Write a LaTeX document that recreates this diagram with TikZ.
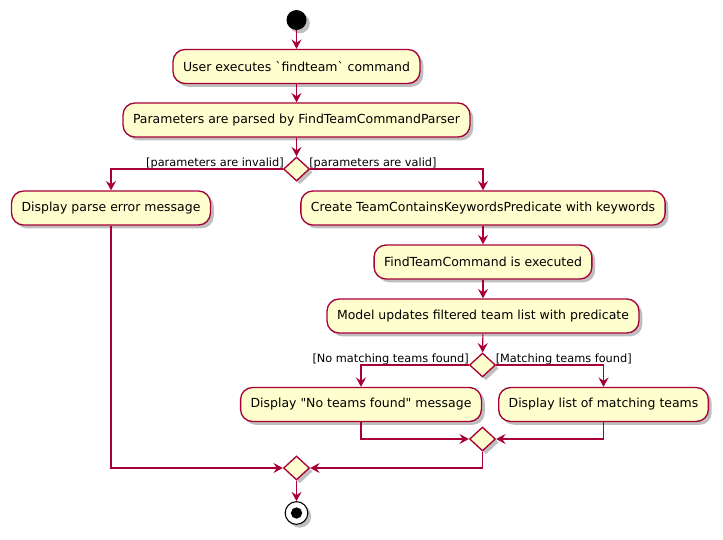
\documentclass[tikz,border=0pt]{standalone}
\usepackage{fontspec}
\newfontfamily\pfont{DejaVu Sans}
\usetikzlibrary{shapes.geometric,arrows.meta,shadows}
\definecolor{pfill}{HTML}{FEFECE}
\definecolor{pline}{HTML}{A80036}
\tikzset{
  act/.style={draw=pline, fill=pfill, line width=1pt, rounded corners=9pt,
    minimum height=25.5pt, inner xsep=7.5pt, inner ysep=0pt, font=\pfont\fontsize{9.35}{11}\selectfont,
    drop shadow={shadow xshift=2.5pt, shadow yshift=-2.5pt, opacity=0.25, fill=black}},
  dia/.style={draw=pline, fill=pfill, line width=1pt, diamond, inner sep=0pt,
    minimum width=19.5pt, minimum height=18pt,
    drop shadow={shadow xshift=2.5pt, shadow yshift=-2.5pt, opacity=0.25, fill=black}},
  arr/.style={draw=pline, line width=0.8pt, -{Stealth[length=7pt, width=7.5pt, inset=2.5pt]}},
  lbl/.style={inner sep=0pt, font=\pfont\fontsize{8.5}{10}\selectfont},
}
\begin{document}
\begin{tikzpicture}[x=0.75pt, y=-0.75pt]
\useasboundingbox (0,0) rectangle (723,539);
% start
\node[circle, fill=black, minimum size=15pt, inner sep=0pt,
  drop shadow={shadow xshift=2.5pt, shadow yshift=-2.5pt, opacity=0.25, fill=black}] (start) at (296.5,20) {};
\node[act] (b1) at (296.5,66.5) {User executes `findteam` command};
\node[act] (b2) at (296.5,120) {Parameters are parsed by FindTeamCommandParser};
\node[dia] (d1) at (296.5,169) {};
\node[act] (pe) at (111,208) {Display parse error message};
\node[act] (ctk) at (483,208) {Create TeamContainsKeywordsPredicate with keywords};
\node[act] (fce) at (483,262) {FindTeamCommand is executed};
\node[act] (mod) at (483,316) {Model updates filtered team list with predicate};
\node[dia] (d2) at (482.5,365) {};
\node[act] (nm) at (361,404.5) {Display "No teams found" message};
\node[act] (ml) at (603.5,404.5) {Display list of matching teams};
\node[dia] (d3) at (482.5,439) {};
\node[dia] (d4) at (296.5,468) {};
\node[circle, draw=black, line width=0.8pt, fill=white, minimum size=17pt, inner sep=0pt,
  drop shadow={shadow xshift=2.5pt, shadow yshift=-2.5pt, opacity=0.25, fill=black}] (end) at (296.5,513) {};
\node[circle, fill=black, minimum size=8.5pt, inner sep=0pt] (endin) at (end.center) {};
% labels
\node[lbl, anchor=base east] (l1) at (284,166) {[parameters are invalid]};
\node[lbl, anchor=base west] (l2) at (309,166) {[parameters are valid]};
\node[lbl, anchor=base east] (l3) at (469,362) {[No matching teams found]};
\node[lbl, anchor=base west] (l4) at (495.5,362) {[Matching teams found]};
% edges
\draw[arr] (start) -- (b1);
\draw[arr] (b1) -- (b2);
\draw[arr] (b2) -- (d1);
\draw[arr] (d1.west) -| (pe.north);
\draw[arr] (d1.east) -| (ctk.north);
\draw[arr] (ctk) -- (fce);
\draw[arr] (fce) -- (mod);
\draw[arr] (mod) -- (d2);
\draw[arr] (d2.west) -| (nm.north);
\draw[arr] (d2.east) -| (ml.north);
\draw[arr] (nm.south) |- (d3.west);
\draw[arr] (ml.south) |- (d3.east);
\draw[arr] (d3.south) |- (d4.east);
\draw[arr] (pe.south) |- (d4.west);
\draw[arr] (d4) -- (end);
\end{tikzpicture}
\end{document}
